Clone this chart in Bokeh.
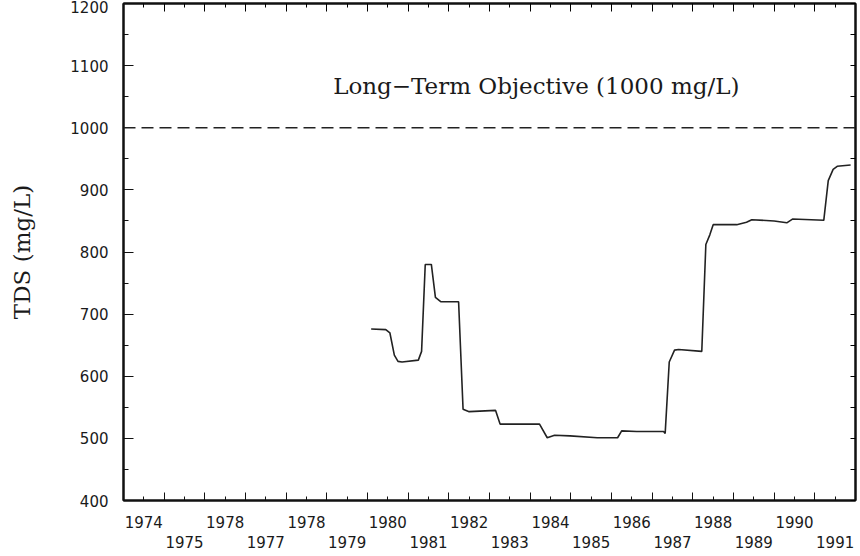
from bokeh.plotting import figure
from bokeh.models import FixedTicker, LinearAxis, Span, Label, Range1d
from bokeh.embed import file_html
from bokeh.resources import INLINE

# ---- data ----
years = [1980.09, 1980.45, 1980.55, 1980.66, 1980.75, 1980.85, 1981.25, 1981.33,
         1981.42, 1981.57, 1981.67, 1981.80, 1982.24, 1982.35, 1982.50, 1983.15,
         1983.26, 1984.23, 1984.42, 1984.60, 1984.98, 1985.65, 1986.15, 1986.25,
         1986.62, 1987.28, 1987.32, 1987.42, 1987.55, 1987.65, 1988.22, 1988.32,
         1988.42, 1988.50, 1989.08, 1989.32, 1989.45, 1990.00, 1990.31, 1990.45,
         1991.22, 1991.33, 1991.45, 1991.55, 1991.88]
tds = [676, 675, 670, 634, 624, 623, 626, 640,
       780, 780, 727, 720, 720, 547, 543, 545,
       523, 523, 501, 505, 504, 501, 501, 512,
       511, 511, 508, 623, 642, 643, 640, 812,
       828, 844, 844, 848, 852, 850, 847, 853,
       851, 915, 933, 938, 940]

objective = 1000
objective_text = "Long\u2212Term Objective (1000 mg/L)"

year_bounds = list(range(1974, 1993))
row1_years = [1974, 1976, 1978, 1980, 1982, 1984, 1986, 1988, 1990]
row1_labels = ["1974", "1978", "1978", "1980", "1982", "1984", "1986", "1988", "1990"]
row2_years = [1975, 1977, 1979, 1981, 1983, 1985, 1987, 1989, 1991]
row2_labels = ["1975", "1977", "1979", "1981", "1983", "1985", "1987", "1989", "1991"]
y_ticks = list(range(400, 1201, 100))
y_minor = list(range(450, 1200, 100))

INK = "#111111"
TXT = "#1a1a1a"

# ---- figure ----
p = figure(width=860, height=550, x_range=Range1d(1974, 1992), y_range=Range1d(400, 1200),
           x_axis_type=None, y_axis_type=None, output_backend="svg", toolbar_location=None,
           min_border_left=123, min_border_right=5, min_border_top=3, min_border_bottom=50)
p.outline_line_color = INK
p.outline_line_width = 2
p.background_fill_color = "white"
p.border_fill_color = "white"

# left axis
yl = LinearAxis(ticker=FixedTicker(ticks=y_ticks, minor_ticks=y_minor),
                axis_label="TDS (mg/L)")
yl.axis_line_width = 2
yl.axis_line_color = INK
yl.major_tick_in = 10
yl.major_tick_out = 0
yl.minor_tick_in = 5
yl.minor_tick_out = 0
yl.major_tick_line_color = INK
yl.minor_tick_line_color = INK
yl.major_label_standoff = 15
yl.major_label_text_font = "DejaVu Sans"
yl.major_label_text_font_size = "15px"
yl.major_label_text_color = TXT
yl.axis_label_text_font = "DejaVu Serif"
yl.axis_label_text_font_size = "23px"
yl.axis_label_text_font_style = "normal"
yl.axis_label_text_color = TXT
yl.axis_label_standoff = 32
p.add_layout(yl, "left")

# right axis (ticks only)
yr = LinearAxis(ticker=FixedTicker(ticks=y_ticks, minor_ticks=y_minor))
yr.axis_line_width = 2
yr.axis_line_color = INK
yr.major_tick_in = 5
yr.major_tick_out = 0
yr.minor_tick_in = 5
yr.minor_tick_out = 0
yr.major_label_text_font_size = "0px"
yr.major_label_standoff = 0
p.add_layout(yr, "right")

half_all = [y + 0.5 for y in year_bounds[:-1]]

# top axis (ticks only)
xt = LinearAxis(ticker=FixedTicker(ticks=year_bounds, minor_ticks=half_all))
xt.axis_line_width = 2
xt.axis_line_color = INK
xt.major_tick_in = 8
xt.major_tick_out = 0
xt.minor_tick_in = 4
xt.minor_tick_out = 0
xt.major_label_text_font_size = "0px"
xt.major_label_standoff = 0
p.add_layout(xt, "above")

# bottom axis: short ticks at mid-year, long ticks at year boundaries, first row of labels
overrides_a = {}
for y in half_all:
    overrides_a[y] = ""
for y, lab in zip(row1_years, row1_labels):
    overrides_a[y + 0.5] = lab
xa = LinearAxis(ticker=FixedTicker(ticks=half_all, minor_ticks=year_bounds),
                major_label_overrides=overrides_a)
xa.axis_line_width = 2
xa.axis_line_color = INK
xa.major_tick_in = 4
xa.major_tick_out = 0
xa.minor_tick_in = 8
xa.minor_tick_out = 0
xa.major_tick_line_color = INK
xa.minor_tick_line_color = INK
xa.major_label_standoff = 15
xa.major_label_text_font = "DejaVu Sans"
xa.major_label_text_font_size = "15px"
xa.major_label_text_color = TXT
p.add_layout(xa, "below")

# second row of labels
overrides_b = {y + 0.5: lab for y, lab in zip(row2_years, row2_labels)}
xb = LinearAxis(ticker=FixedTicker(ticks=[y + 0.5 for y in row2_years]),
                major_label_overrides=overrides_b)
xb.axis_line_color = None
xb.major_tick_line_color = None
xb.minor_tick_line_color = None
xb.major_tick_in = 0
xb.major_tick_out = 0
xb.major_label_standoff = 5
xb.major_label_text_font = "DejaVu Sans"
xb.major_label_text_font_size = "15px"
xb.major_label_text_color = TXT
p.add_layout(xb, "below")

# objective line
p.add_layout(Span(location=objective, dimension="width", line_color="#222222",
                  line_width=1.5, line_dash="12 6"))
p.add_layout(Label(x=1984.15, y=1067, text=objective_text, text_font="DejaVu Serif",
                   text_font_size="23px", text_align="center", text_baseline="alphabetic",
                   text_color=TXT))

# data line
p.line(years, tds, line_color="#222222", line_width=1.6)

open("out.html", "w").write(file_html(p, INLINE))
